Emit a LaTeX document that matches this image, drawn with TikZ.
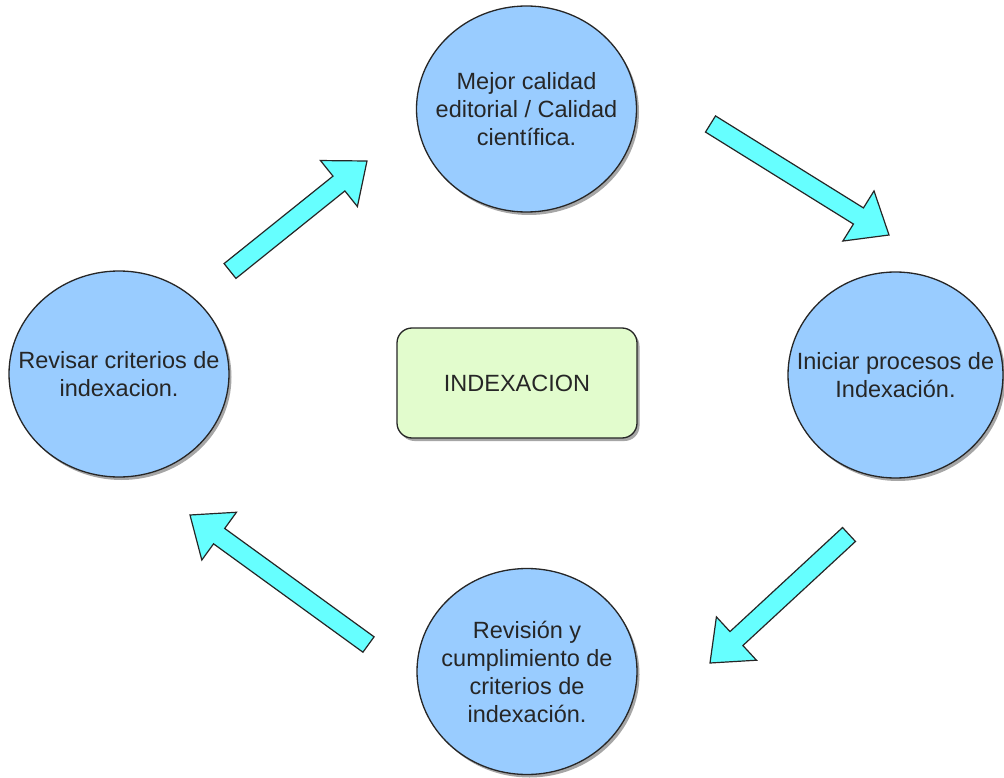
\documentclass[tikz,border=0pt]{standalone}
\usepackage{fontspec}
\setmainfont{Liberation Sans}
\usetikzlibrary{calc,shadows,shapes.geometric}

\definecolor{stepblue}{HTML}{99CCFF}
\definecolor{centergreen}{HTML}{E2FCCD}
\definecolor{flowcyan}{HTML}{66FFFF}
\definecolor{inkgray}{HTML}{262626}

\tikzset{
  stagetext/.style={align=center, text=inkgray, inner sep=0pt,
    font=\fontsize{23.5}{28}\selectfont},
  stagenode/.style={ellipse, draw=inkgray, line width=1.3pt, fill=stepblue,
    minimum width=220pt, minimum height=206pt, inner sep=0pt,
    drop shadow={shadow xshift=2.5pt, shadow yshift=-3pt, opacity=0.35, fill=black},
    label={[stagetext]center:#1}},
  hubnode/.style={rectangle, rounded corners=15pt, draw=inkgray, line width=1.3pt,
    fill=centergreen, minimum width=240pt, minimum height=110pt,
    text=inkgray, font=\fontsize{23.5}{28}\selectfont,
    drop shadow={shadow xshift=2.5pt, shadow yshift=-3pt, opacity=0.35, fill=black}},
  flowarrow/.style={draw=inkgray, line width=1.2pt, fill=flowcyan, line join=miter}
}

% block arrow from tail #2 to tip #3, name #1
\newcommand\cyclearrow[3]{%
  \coordinate (#1-b) at ($(#3)!36pt!(#2)$);
  \draw[flowarrow]
    ($(#2)!9.5pt!90:(#3)$) -- ($(#1-b)!9.5pt!-90:(#2)$) --
    ($(#1-b)!29.5pt!-90:(#2)$) -- (#3) --
    ($(#1-b)!29.5pt!90:(#2)$) -- ($(#1-b)!9.5pt!90:(#2)$) --
    ($(#2)!9.5pt!-90:(#3)$) -- cycle;
}

\begin{document}
\begin{tikzpicture}[x=1pt,y=-1pt]
  \useasboundingbox[fill=white] (0,0) rectangle (1004,778);

  \node[stagenode={Mejor calidad\\editorial / Calidad\\científica.}] (calidad) at (526.5,109) {};
  \node[stagenode={Iniciar procesos de\\Indexación.}, minimum width=215pt] (iniciar) at (895.5,375) {};
  \node[stagenode={Revisión y\\cumplimiento de\\criterios de\\indexación.}] (cumplir) at (527,671.5) {};
  \node[stagenode={Revisar criterios de\\indexacion.}] (revisar) at (119,374) {};

  \node[hubnode] (hub) at (517,383) {INDEXACION};

  % arrow end points
  \coordinate (a1t) at (230,271);   \coordinate (a1h) at (367,161);
  \coordinate (a2t) at (710.5,124); \coordinate (a2h) at (889,235);
  \coordinate (a3t) at (849,534.5); \coordinate (a3h) at (710,663);
  \coordinate (a4t) at (368.5,644.5); \coordinate (a4h) at (190,515);

  \cyclearrow{a1}{a1t}{a1h}
  \cyclearrow{a2}{a2t}{a2h}
  \cyclearrow{a3}{a3t}{a3h}
  \cyclearrow{a4}{a4t}{a4h}
\end{tikzpicture}
\end{document}
